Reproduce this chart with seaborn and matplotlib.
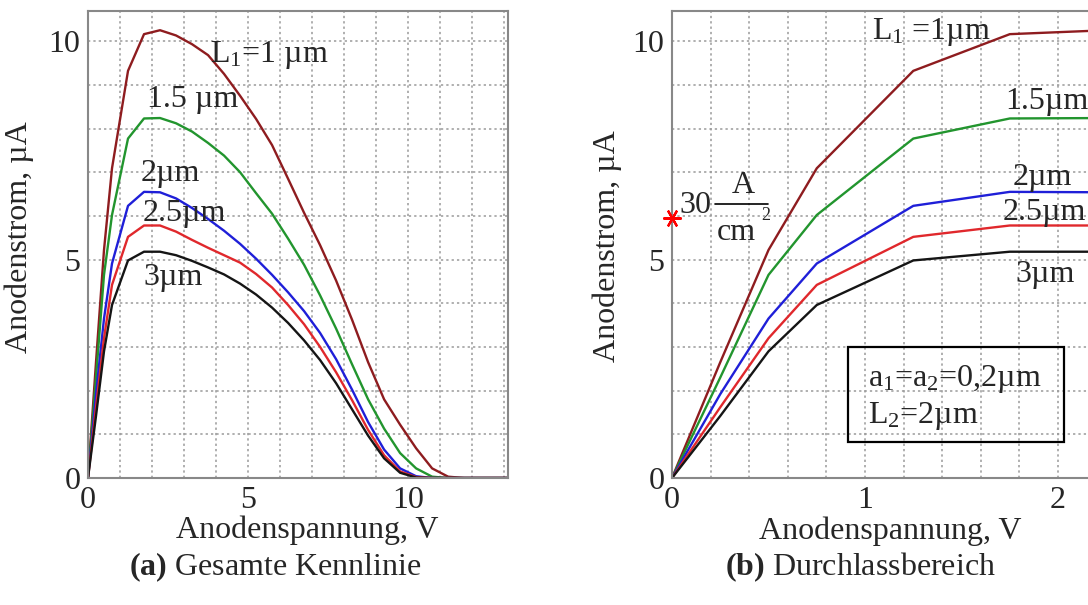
import numpy as np
import pandas as pd
import matplotlib
matplotlib.use("Agg")
import matplotlib.pyplot as plt
import seaborn as sns
from matplotlib.patches import Rectangle

voltage = [0, 0.25, 0.5, 0.75, 1.25, 1.75, 2.25, 2.75, 3.25, 3.75, 4.25, 4.75,
           5.25, 5.75, 6.25, 6.75, 7.25, 7.75, 8.25, 8.75, 9.25, 9.75, 10.25,
           10.75, 11.25, 11.75, 13.5]

# anode current (uA) for each L1
i_1um = [0, 2.65, 5.22, 7.09, 9.32, 10.16, 10.25, 10.13, 9.93, 9.68, 9.25, 8.75,
         8.22, 7.62, 6.85, 6.07, 5.33, 4.52, 3.62, 2.65, 1.80, 1.22, 0.68,
         0.22, 0.03, 0, 0]
i_15um = [0, 2.3, 4.65, 6.02, 7.77, 8.23, 8.24, 8.12, 7.93, 7.67, 7.38, 7.0,
          6.52, 6.05, 5.48, 4.88, 4.18, 3.42, 2.6, 1.8, 1.13, 0.57, 0.22,
          0.03, 0, 0, 0]
i_2um = [0, 1.92, 3.65, 4.91, 6.23, 6.55, 6.54, 6.40, 6.18, 5.93, 5.66, 5.36,
         5.02, 4.65, 4.25, 3.82, 3.32, 2.72, 2.02, 1.28, 0.65, 0.22, 0.04,
         0, 0, 0, 0]
i_25um = [0, 1.62, 3.2, 4.42, 5.52, 5.78, 5.78, 5.64, 5.45, 5.27, 5.1, 4.93,
          4.67, 4.36, 3.96, 3.52, 3.0, 2.42, 1.78, 1.1, 0.52, 0.15, 0.02,
          0, 0, 0, 0]
i_3um = [0, 1.42, 2.9, 3.96, 4.98, 5.18, 5.18, 5.1, 4.97, 4.82, 4.66, 4.45,
         4.2, 3.9, 3.55, 3.15, 2.7, 2.17, 1.57, 0.97, 0.45, 0.12, 0.01,
         0, 0, 0, 0]

labels = ["1", "1.5", "2", "2.5", "3"]
colors = ["#8e1c1f", "#22952e", "#1f1fd8", "#e0282c", "#151515"]
star_current = 5.95  # 30 A/cm^2 marker

df = pd.concat([
    pd.DataFrame({"V": voltage, "I": cur, "L1": lab})
    for lab, cur in zip(labels, [i_1um, i_15um, i_2um, i_25um, i_3um])
])

sns.set_style("white")
plt.rcParams["font.family"] = ["Liberation Serif", "DejaVu Serif"]
plt.rcParams["mathtext.fontset"] = "custom"
plt.rcParams["mathtext.rm"] = "Liberation Serif"
plt.rcParams["mathtext.it"] = "Liberation Serif:italic"
plt.rcParams["mathtext.bf"] = "Liberation Serif:bold"

FS = 23
grid_kw = dict(color="#9a9a9a", linestyle=(0, (1.5, 2.0)), linewidth=1.1)

fig = plt.figure(figsize=(10.88, 6.05), dpi=100)
ax1 = fig.add_axes([88 / 1088, 127 / 605, 420 / 1088, 467 / 605])
ax2 = fig.add_axes([672 / 1088, 127 / 605, 416 / 1088, 467 / 605])

for ax in (ax1, ax2):
    sns.lineplot(data=df, x="V", y="I", hue="L1", hue_order=labels,
                 palette=colors, estimator=None, legend=False,
                 linewidth=1.7, ax=ax)
    ax.set_ylim(0, 10.69)
    ax.set_yticks([0, 5, 10])
    ax.set_yticks(np.arange(0, 11, 1), minor=True)
    ax.grid(which="both", **grid_kw)
    ax.set_axisbelow(True)
    for s in ax.spines.values():
        s.set_color("#888888")
        s.set_linewidth(1.5)
    ax.tick_params(which="both", direction="out", length=3.5, width=1,
                   color="#888888", labelsize=FS, pad=2)
    ax.set_ylabel("Anodenstrom, µA", fontsize=FS)
    ax.set_xlabel("Anodenspannung, V", fontsize=FS)

# (a) full characteristic
ax1.set_xlim(0, 13.12)
ax1.set_xticks([0, 5, 10])
ax1.set_xticks(np.arange(0, 14, 1), minor=True)
ax1.yaxis.set_label_coords(-0.128, 0.516)
ax1.xaxis.set_label_coords(0.521, -0.08)
for txt, x, y in [("L$_1$=1 µm", 3.81, 9.52), ("1.5 µm", 1.84, 8.49),
                  ("2µm", 1.63, 6.8), ("2.5µm", 1.72, 5.89),
                  ("3µm", 1.72, 4.41)]:
    ax1.text(x, y, txt, fontsize=FS, va="baseline", ha="left")

# (b) forward region
ax2.set_xlim(0, 2.155)
ax2.set_xticks([0, 1, 2])
ax2.set_xticks(np.arange(0, 2.2, 0.2), minor=True)
ax2.spines["right"].set_visible(False)
ax2.yaxis.set_label_coords(-0.12, 0.497)
ax2.xaxis.set_label_coords(0.524, -0.082)
for txt, x, y in [("L$_1$ =1µm", 1.035, 10.04), ("1.5µm", 1.725, 8.44),
                  ("2µm", 1.767, 6.7), ("2.5µm", 1.712, 5.9),
                  ("3µm", 1.777, 4.49)]:
    ax2.text(x, y, txt, fontsize=FS, va="baseline", ha="left")

ax2.plot([0], [star_current], marker=(6, 2, 90), color="red", ms=13, mew=1.6,
         clip_on=False, zorder=5)
ax2.text(0.04, 6.07, "30", fontsize=FS, va="baseline")
ax2.text(0.368, 6.52, "A", fontsize=FS, va="baseline", ha="center")
ax2.plot([0.223, 0.497], [6.27, 6.27], color="black", lw=1.2)
ax2.text(0.335, 5.45, "cm", fontsize=FS, va="baseline", ha="center")
ax2.text(0.462, 5.9, "2", fontsize=13, va="baseline")

ax2.add_patch(Rectangle((0.91, 0.82), 1.12, 2.18, fill=False,
                        edgecolor="black", lw=1.6, zorder=4))
ax2.text(1.015, 2.1, "a$_1$=a$_2$=0,2µm", fontsize=FS, va="baseline")
ax2.text(1.015, 1.27, "L$_2$=2µm", fontsize=FS, va="baseline")

fig.text(275 / 1088, 38 / 605, r"$\mathbf{(a)}$ Gesamte Kennlinie",
         fontsize=FS, ha="center", va="center")
fig.text(860 / 1088, 38 / 605, r"$\mathbf{(b)}$ Durchlassbereich",
         fontsize=FS, ha="center", va="center")

fig.savefig("out.png", dpi=100)
